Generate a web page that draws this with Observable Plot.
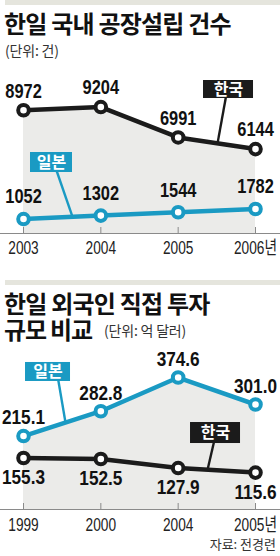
<!DOCTYPE html>
<html><head><meta charset="utf-8">
<script src="https://cdn.jsdelivr.net/npm/d3@7"></script>
<script src="https://cdn.jsdelivr.net/npm/@observablehq/plot@0.6"></script>
<style>
html,body{margin:0;padding:0;background:#fff;}
body{width:280px;height:556px;position:relative;overflow:hidden;font-family:"Noto Sans CJK KR",sans-serif;color:#111;}
.band{position:absolute;left:5px;width:275px;height:5px;background:#e5e5dd;}
.title{position:absolute;left:4px;font-size:24px;line-height:24px;font-weight:700;letter-spacing:-0.8px;white-space:nowrap;color:#111;}
.title.l2{letter-spacing:-1.2px;}
.sub{position:absolute;font-size:14px;line-height:14px;color:#333;white-space:nowrap;letter-spacing:-0.2px;}
.chart{position:absolute;left:0;width:280px;}
.chart svg{display:block;overflow:visible;}
.src{position:absolute;right:4px;font-size:13px;line-height:13px;color:#333;white-space:nowrap;}
</style></head><body>
<div class="band" style="top:0"></div>
<div class="title" style="top:11px">한일 국내 공장설립 건수</div>
<div class="sub" style="left:5px;top:43px">(단위: 건)</div>
<div class="chart" id="c1" style="top:62px"></div>
<div class="band" style="top:280px"></div>
<div class="title" style="top:291px">한일 외국인 직접 투자</div>
<div class="title l2" style="top:317px">규모 비교</div>
<div class="sub" style="left:104px;top:323px">(단위: 억 달러)</div>
<div class="chart" id="c2" style="top:340px"></div>
<div class="src" style="top:537px">자료: 전경련</div>
<script>
// ---- data ----
const years1 = ["2003", "2004", "2005", "2006년"];
const korea1 = [8972, 9204, 6991, 6144];
const japan1 = [1052, 1302, 1544, 1782];

const years2 = ["1999", "2000", "2004", "2005년"];
const japan2 = [215.1, 282.8, 374.6, 301.0];
const korea2 = [155.3, 152.5, 127.9, 115.6];

const seriesNames = ["한국", "일본"];

// ---- style ----
const KOREA = "#1b1b1b";
const JAPAN = "#1a9ac3";
const AREA = "#ebebe9";
const NUMFONT = "'Liberation Sans','Arial','Noto Sans CJK KR',sans-serif";
const KFONT = "'Noto Sans CJK KR',sans-serif";

function interp(values, x) {
  const i = Math.min(Math.floor(x), values.length - 2);
  const t = x - i;
  return values[i] + (values[i + 1] - values[i]) * t;
}

function makeChart(cfg) {
  const idx = cfg.years.map((_, i) => i);
  const rows = (vals, fmt) => vals.map((v, i) => ({i, v, label: fmt(v)}));
  const marks = [];
  marks.push(Plot.areaY(rows(cfg.areaValues, String), {x: "i", y1: cfg.base, y2: "v", fill: AREA}));
  marks.push(Plot.ruleY([cfg.base], {stroke: "#8a8a8a", strokeWidth: 1}));
  marks.push(Plot.ruleX(idx, {x: d => d, y1: cfg.base, y2: cfg.base, insetBottom: 6, stroke: "#8a8a8a", strokeWidth: 1}));
  marks.push(Plot.text(idx, {x: d => d, y: cfg.base, text: d => cfg.years[d], dy: cfg.tickDy, fontSize: 18, fill: "#222", fontFamily: NUMFONT, className: "sq-tick"}));
  for (const c of cfg.callouts) {
    marks.push(Plot.link([c], {x1: "sx", y1: "cy", x2: "ex", y2: d => interp(d.values, d.ex), stroke: c.fill, strokeWidth: 2.4}));
  }
  for (const s of cfg.series) {
    const r = rows(s.values, s.fmt);
    marks.push(Plot.line(r, {x: "i", y: "v", stroke: s.color, strokeWidth: 4.5}));
    marks.push(Plot.dot(r, {x: "i", y: "v", r: 5.3, fill: "white", stroke: s.color, strokeWidth: 4}));
    marks.push(Plot.text(r, {x: "i", y: "v", text: "label", dy: s.dy, fontSize: 20, fontWeight: "bold", fill: "#111", fontFamily: NUMFONT, className: "sq-val"}));
  }
  for (const c of cfg.callouts) {
    marks.push(Plot.rect([c], {x1: "cx", x2: "cx", y1: "cy", y2: "cy", insetLeft: -c.w / 2, insetRight: -c.w / 2, insetTop: -c.h / 2, insetBottom: -c.h / 2, fill: c.fill}));
    marks.push(Plot.text([c], {x: "cx", y: "cy", text: "name", fill: "white", fontSize: 16, fontWeight: "bold", fontFamily: KFONT}));
  }
  return Plot.plot({
    width: 280, height: 200, margin: 0,
    x: {domain: [0, cfg.years.length - 1], range: [23, 255], axis: null},
    y: {domain: cfg.yDomain, range: cfg.yRange, axis: null},
    style: {background: "transparent", overflow: "visible"},
    marks
  });
}

// narrow the Latin numerals to mimic a condensed typeface
function squeeze(svg, sel, factor) {
  d3.select(svg).selectAll(sel).each(function () {
    const L = this.getComputedTextLength();
    if (L > 0) {
      this.setAttribute("textLength", (L * factor).toFixed(2));
      this.setAttribute("lengthAdjust", "spacingAndGlyphs");
    }
  });
}

const svg1 = makeChart({
  years: years1,
  base: 0,
  yDomain: [0, 10000], yRange: [171, 33.6],
  tickDy: 14.5,
  areaValues: korea1,
  series: [
    {values: korea1, color: KOREA, dy: -19, fmt: String},
    {values: japan1, color: JAPAN, dy: -22, fmt: String}
  ],
  callouts: [
    {name: seriesNames[0], fill: KOREA, cx: 2.651, cy: 10480, w: 50, h: 18, sx: 2.635, ex: 2.509, values: korea1},
    {name: seriesNames[1], fill: JAPAN, cx: 0.362, cy: 5167, w: 42, h: 20, sx: 0.391, ex: 0.634, values: japan1}
  ]
});
document.getElementById("c1").append(svg1);
squeeze(svg1, "g.sq-tick text", 0.76);
squeeze(svg1, "g.sq-val text", 0.82);

const svg2 = makeChart({
  years: years2,
  base: 15,
  yDomain: [15, 400], yRange: [169, 27.7],
  tickDy: 16,
  areaValues: japan2,
  series: [
    {values: japan2, color: JAPAN, dy: -18, fmt: v => v.toFixed(1)},
    {values: korea2, color: KOREA, dy: 20, fmt: v => v.toFixed(1)}
  ],
  callouts: [
    {name: seriesNames[1], fill: JAPAN, cx: 0.317, cy: 389.7, w: 45, h: 19, sx: 0.432, ex: 0.543, values: japan2},
    {name: seriesNames[0], fill: KOREA, cx: 2.483, cy: 223.4, w: 50, h: 21, sx: 2.49, ex: 2.38, values: korea2}
  ]
});
document.getElementById("c2").append(svg2);
squeeze(svg2, "g.sq-tick text", 0.76);
squeeze(svg2, "g.sq-val text", 0.86);
</script>
</body></html>
